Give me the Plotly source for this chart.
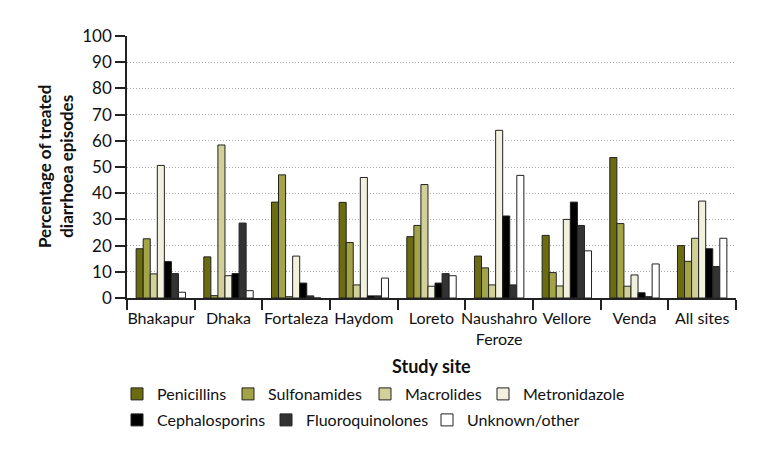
import plotly.graph_objects as go

sites = ["Bhakapur", "Dhaka", "Fortaleza", "Haydom", "Loreto",
         "Naushahro<br>Feroze", "Vellore", "Venda", "All sites"]

penicillins      = [18.8, 15.7, 36.6, 36.5, 23.4, 16.0, 23.9, 53.6, 20.0]
sulfonamides     = [22.6, 0.9, 47.0, 21.2, 27.7, 11.5, 9.7, 28.4, 14.0]
macrolides       = [9.2, 58.4, 0.5, 5.0, 43.3, 5.0, 4.6, 4.5, 22.8]
metronidazole    = [50.6, 8.5, 16.0, 46.0, 4.5, 64.0, 30.0, 8.8, 37.0]
cephalosporins   = [13.9, 9.3, 5.7, 0.8, 5.7, 31.3, 36.6, 2.0, 18.8]
fluoroquinolones = [9.3, 28.6, 0.8, 0.8, 9.3, 5.0, 27.7, 0.5, 12.0]
unknown_other    = [2.2, 2.8, 0.0, 7.6, 8.5, 46.8, 18.0, 13.0, 22.8]

series_names  = ["Penicillins", "Sulfonamides", "Macrolides", "Metronidazole",
                 "Cephalosporins", "Fluoroquinolones", "Unknown/other"]
series_values = [penicillins, sulfonamides, macrolides, metronidazole,
                 cephalosporins, fluoroquinolones, unknown_other]
series_colors = ["#6b6b10", "#a3a348", "#d0d098", "#f1f1dd",
                 "#000000", "#333333", "#ffffff"]

# page offset of the plot inside the html body (default body margin)
OFF = 8

# legend layout in screen pixels (text start x, row centre y)
legend_text_x = [158, 269, 406, 524, 158, 307, 468]
legend_row_y  = [394, 394, 394, 394, 420, 420, 420]

W, H = 771, 454
PLOT_X0, PLOT_X1, PLOT_Y0, PLOT_Y1 = 127, 736, 36, 298   # screen px
L = PLOT_X0 - OFF
T = PLOT_Y0 - OFF
PW = PLOT_X1 - PLOT_X0
PH = PLOT_Y1 - PLOT_Y0
R = W - L - PW
B = H - T - PH


def px_x(sx):
    return (sx - PLOT_X0) / PW


def px_y(sy):
    return (PLOT_Y1 - sy) / PH


AX_FONT = "Lato, Roboto, sans-serif"
LG_FONT = "Lato, Open Sans, sans-serif"

fig = go.Figure()
layout_legends = {}
for i, (name, vals, color) in enumerate(zip(series_names, series_values, series_colors)):
    key = "legend" if i == 0 else f"legend{i + 1}"
    fig.add_trace(go.Bar(
        name=name, x=sites, y=vals,
        marker=dict(color=color, line=dict(color="#222222", width=1)),
        legend=key, showlegend=True,
    ))
    layout_legends[key] = dict(
        orientation="h",
        x=px_x(legend_text_x[i] - 41), xanchor="left",
        y=px_y(legend_row_y[i]), yanchor="middle",
        font=dict(family=LG_FONT, size=16, color="#111111"),
        itemwidth=30, bgcolor="rgba(0,0,0,0)", borderwidth=0,
        visible=True,
    )

fig.update_layout(
    width=W, height=H,
    margin=dict(l=L, r=R, t=T, b=B),
    barmode="group", bargap=0.27, bargroupgap=0,
    plot_bgcolor="white", paper_bgcolor="white",
    font=dict(family=AX_FONT, size=15, color="#111111"),
    showlegend=True,
    **layout_legends,
)

fig.update_yaxes(
    range=[0, 100], dtick=10, tick0=0,
    showline=True, linecolor="#222222", linewidth=1.5,
    ticks="outside", ticklen=10, tickcolor="#222222", tickwidth=1.5,
    showgrid=True, gridcolor="#a8a8a8", griddash="1px,2px", gridwidth=1,
    zeroline=False,
    tickfont=dict(family=AX_FONT, size=17),
)
fig.update_xaxes(
    showline=True, linecolor="#222222", linewidth=1.5,
    ticks="outside", ticklen=10, tickcolor="#222222", tickwidth=1.5,
    tickson="boundaries", tickangle=0, ticklabelstandoff=5,
    tickfont=dict(family=AX_FONT, size=16),
)

fig.add_annotation(
    text="<b>Percentage of treated<br>diarrhoea episodes</b>",
    xref="paper", yref="paper", x=px_x(55), y=0.5,
    xanchor="center", yanchor="middle", textangle=-90, showarrow=False,
    font=dict(family=AX_FONT, size=17, color="#111111"),
)
fig.add_annotation(
    text="<b>Study site</b>",
    xref="paper", yref="paper", x=0.5, y=px_y(366),
    xanchor="center", yanchor="middle", showarrow=False,
    font=dict(family=AX_FONT, size=18, color="#111111"),
)

fig.write_html("out.html")
